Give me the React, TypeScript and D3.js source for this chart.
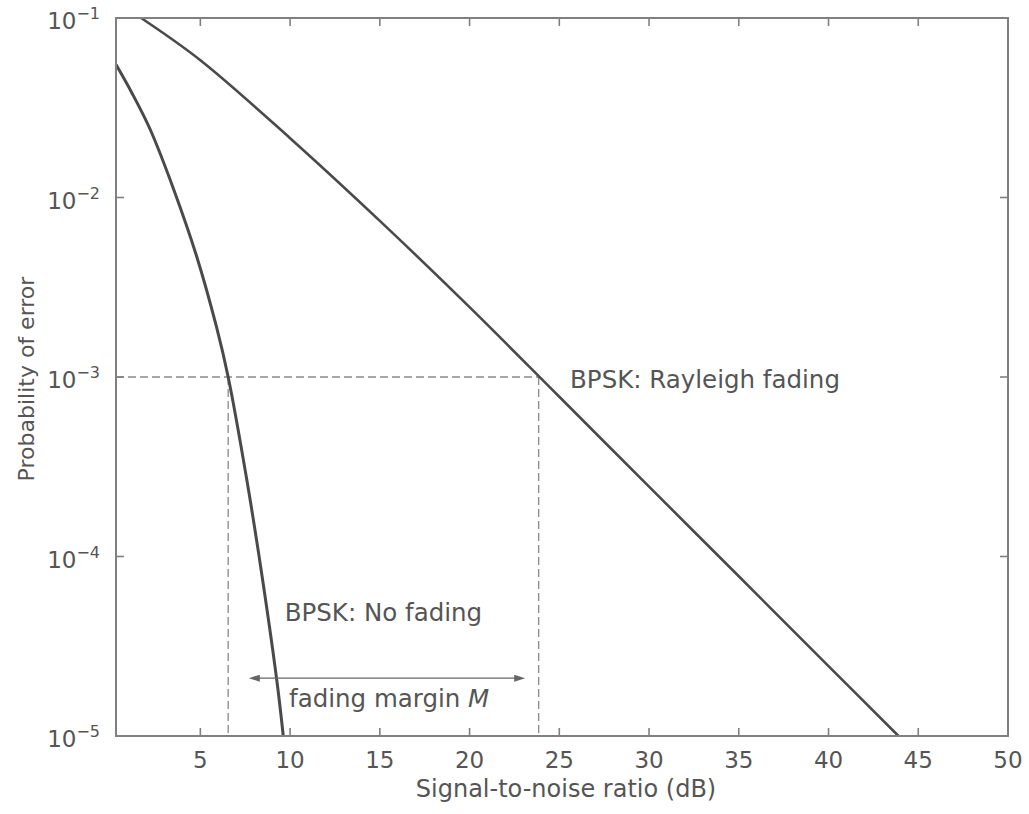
import React from "react";
import * as d3 from "d3";

// Data
const noFadingSnr = [0.3, 1.2, 2.2, 3.5, 4.8, 5.9, 6.55, 7.6, 8.5, 9.3, 9.62];
const noFadingPe = [0.055, 0.038, 0.024, 0.0112, 0.00468, 0.0019, 0.001, 2.63e-4, 7.08e-5, 1.9e-5, 1.0e-5];

const rayleighSnr = [1.7, 5, 10, 15, 20, 25, 30, 35, 40, 43.9];
const rayleighPe = [0.1, 0.0582, 0.0214, 0.00741, 0.00245, 7.76e-4, 2.45e-4, 7.76e-5, 2.45e-5, 1.0e-5];

const xTicks = [5, 10, 15, 20, 25, 30, 35, 40, 45, 50];
const yTickExps = [-1, -2, -3, -4, -5];

const refPe = 1e-3;
const noFadingAtRef = 6.55;
const rayleighAtRef = 23.85;
const arrowFrom = 7.7;
const arrowTo = 23.1;
const arrowPe = 2.1e-5;

const W = 1029;
const H = 814;
const xMin = 0.3;
const xMax = 50;

export default function App() {
  const x = d3.scaleLinear().domain([xMin, xMax]).range([116, 1008]);
  const y = d3.scaleLog().domain([1e-5, 1e-1]).range([736, 18]);
  const line = d3
    .line<[number, number]>()
    .x((d) => x(d[0]))
    .y((d) => y(d[1]))
    .curve(d3.curveCatmullRom.alpha(0.5));

  const nf = noFadingSnr.map((s, i) => [s, noFadingPe[i]] as [number, number]);
  const ry = rayleighSnr.map((s, i) => [s, rayleighPe[i]] as [number, number]);

  const x0 = x.range()[0];
  const x1 = x.range()[1];
  const yTop = y.range()[1];
  const yBot = y.range()[0];
  const font = "'DejaVu Sans', 'Liberation Sans', Arial, sans-serif";
  const textColor = "#555";
  const axisColor = "#808080";
  const curveColor = "#4a4a4a";
  const tickLen = 8;

  const ay = y(arrowPe);
  const ax0 = x(arrowFrom);
  const ax1 = x(arrowTo);

  return (
    <svg
      width={W}
      height={H}
      style={{ position: "absolute", left: 0, top: 0, background: "#fff" }}
      fontFamily={font}
    >
      {/* dashed reference lines */}
      <g stroke="#8a8a8a" strokeWidth={1.3} strokeDasharray="8,4" fill="none">
        <line x1={x0} x2={x(rayleighAtRef)} y1={y(refPe)} y2={y(refPe)} />
        <line x1={x(noFadingAtRef)} x2={x(noFadingAtRef)} y1={y(refPe)} y2={yBot} />
        <line x1={x(rayleighAtRef)} x2={x(rayleighAtRef)} y1={y(refPe)} y2={yBot} />
      </g>

      {/* curves */}
      <path d={line(nf) || ""} fill="none" stroke={curveColor} strokeWidth={3} />
      <path d={line(ry) || ""} fill="none" stroke={curveColor} strokeWidth={2.6} />

      {/* frame */}
      <rect x={x0} y={yTop} width={x1 - x0} height={yBot - yTop} fill="none" stroke={axisColor} strokeWidth={2} />

      {/* x ticks */}
      {xTicks.map((t) => (
        <g key={"xt" + t}>
          {t < xMax && (
            <>
              <line x1={x(t)} x2={x(t)} y1={yBot} y2={yBot - tickLen} stroke={axisColor} strokeWidth={1.6} />
              <line x1={x(t)} x2={x(t)} y1={yTop} y2={yTop + tickLen} stroke={axisColor} strokeWidth={1.6} />
            </>
          )}
          <text x={x(t)} y={yBot + 32} textAnchor="middle" fontSize={23} fill={textColor}>
            {t}
          </text>
        </g>
      ))}

      {/* y ticks */}
      {yTickExps.map((e) => {
        const v = Math.pow(10, e);
        const yy = y(v);
        return (
          <g key={"yt" + e}>
            {e !== -1 && e !== -5 && (
              <>
                <line x1={x0} x2={x0 + tickLen} y1={yy} y2={yy} stroke={axisColor} strokeWidth={1.6} />
                <line x1={x1} x2={x1 - tickLen} y1={yy} y2={yy} stroke={axisColor} strokeWidth={1.6} />
              </>
            )}
            <text x={x0 - 16} y={yy + 11} textAnchor="end" fontSize={23} fill={textColor}>
              <tspan>10</tspan>
              <tspan dy={-10} fontSize={16}>{"\u2212" + Math.abs(e)}</tspan>
            </text>
          </g>
        );
      })}

      {/* axis titles */}
      <text x={(x0 + x1) / 2 + 4} y={797} textAnchor="middle" fontSize={24} fill={textColor}>
        Signal-to-noise ratio (dB)
      </text>
      <text
        transform={`translate(34, ${(yTop + yBot) / 2 + 2}) rotate(-90)`}
        textAnchor="middle"
        fontSize={22}
        fill={textColor}
      >
        Probability of error
      </text>

      {/* annotations */}
      <text x={x(25.6)} y={y(8.7e-4)} fontSize={24.5} fill={textColor}>
        BPSK: Rayleigh fading
      </text>
      <text x={x(9.7)} y={y(4.4e-5)} fontSize={24.5} fill={textColor}>
        BPSK: No fading
      </text>
      <text x={x(9.94)} y={y(1.45e-5)} fontSize={24.5} fill={textColor}>
        fading margin <tspan fontStyle="italic">M</tspan>
      </text>

      {/* double arrow */}
      <line x1={ax0 + 8} x2={ax1 - 8} y1={ay} y2={ay} stroke="#666" strokeWidth={1.4} />
      <path d={`M${ax0},${ay} L${ax0 + 11},${ay - 3.5} L${ax0 + 11},${ay + 3.5} Z`} fill="#666" />
      <path d={`M${ax1},${ay} L${ax1 - 11},${ay - 3.5} L${ax1 - 11},${ay + 3.5} Z`} fill="#666" />
    </svg>
  );
}
